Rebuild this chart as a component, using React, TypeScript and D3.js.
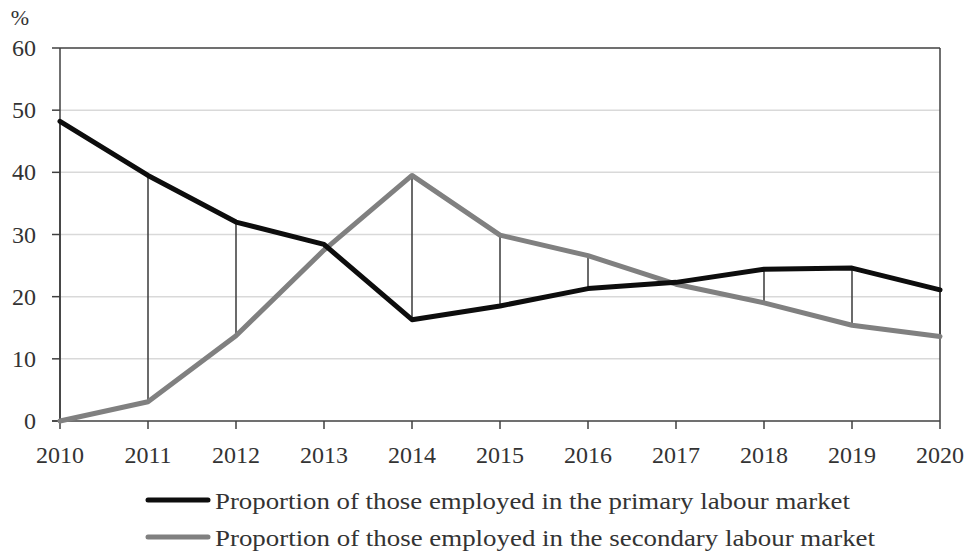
import React from "react";
import * as d3 from "d3";

const years = [2010, 2011, 2012, 2013, 2014, 2015, 2016, 2017, 2018, 2019, 2020];
const primary = [48.2, 39.5, 32.0, 28.4, 16.3, 18.5, 21.3, 22.3, 24.4, 24.6, 21.1];
const secondary = [0.0, 3.1, 13.7, 27.5, 39.5, 29.9, 26.6, 22.0, 19.0, 15.4, 13.6];
const yTicks = [0, 10, 20, 30, 40, 50, 60];
const seriesNames = [
  "Proportion of those employed in the primary labour market",
  "Proportion of those employed in the secondary labour market",
];
const seriesColors = ["#0d0d0d", "#808080"];

const W = 969;
const H = 555;
const left = 60;
const right = 940;
const top = 48;
const bottom = 421;
const font = "Liberation Serif";
const axisColor = "#404040";

export default function App() {
  const x = d3.scaleLinear().domain([2010, 2020]).range([left, right]);
  const y = d3.scaleLinear().domain([0, 60]).range([bottom, top]);
  const line = d3
    .line<number>()
    .x((_, i) => x(years[i]))
    .y((d) => y(d));

  const legendWidths = [635, 660];

  return (
    <svg
      width={W}
      height={H}
      viewBox={`0 0 ${W} ${H}`}
      style={{ position: "absolute", left: 0, top: 0, background: "#fff", fontFamily: font }}
    >
      <rect x={0} y={0} width={W} height={H} fill="#fff" />
      {/* horizontal gridlines */}
      {yTicks
        .filter((t) => t > 0 && t < 60)
        .map((t) => (
          <line key={t} x1={left} x2={right} y1={y(t)} y2={y(t)} stroke="#d9d9d9" strokeWidth={1.5} />
        ))}
      {/* plot frame */}
      <line x1={left} x2={right} y1={y(60)} y2={y(60)} stroke={axisColor} strokeWidth={1.5} />
      <line x1={right} x2={right} y1={y(60)} y2={bottom} stroke={axisColor} strokeWidth={1.5} />
      <line x1={left} x2={left} y1={y(60)} y2={bottom} stroke={axisColor} strokeWidth={1.5} />
      <line x1={left - 8} x2={right} y1={bottom} y2={bottom} stroke={axisColor} strokeWidth={1.5} />

      {/* y ticks and labels */}
      {yTicks.map((t) => (
        <g key={t}>
          <line x1={left - 8} x2={left} y1={y(t)} y2={y(t)} stroke={axisColor} strokeWidth={1.5} />
          <text x={36} y={y(t) + 8} textAnchor="end" fontSize={24} fill="#333">
            {t}
          </text>
        </g>
      ))}
      <text x={20} y={25} textAnchor="middle" fontSize={22} fill="#333">
        %
      </text>

      {/* x ticks and labels */}
      {years.map((yr) => (
        <g key={yr}>
          <line x1={x(yr)} x2={x(yr)} y1={bottom} y2={bottom + 8} stroke={axisColor} strokeWidth={1.5} />
          <text x={x(yr)} y={463} textAnchor="middle" fontSize={24} fill="#333">
            {yr}
          </text>
        </g>
      ))}

      {/* high-low lines between the two series */}
      {years.map((yr, i) => (
        <line
          key={`hl-${yr}`}
          x1={x(yr)}
          x2={x(yr)}
          y1={y(primary[i])}
          y2={y(secondary[i])}
          stroke="#3a3a3a"
          strokeWidth={1.5}
        />
      ))}

      {/* series lines */}
      <path d={line(secondary) ?? ""} fill="none" stroke={seriesColors[1]} strokeWidth={5} strokeLinejoin="round" strokeLinecap="round" />
      <path d={line(primary) ?? ""} fill="none" stroke={seriesColors[0]} strokeWidth={5} strokeLinejoin="round" strokeLinecap="round" />

      {/* legend */}
      {seriesNames.map((name, i) => {
        const ly = 500 + i * 37;
        return (
          <g key={name}>
            <line x1={148} x2={208} y1={ly} y2={ly} stroke={seriesColors[i]} strokeWidth={5} strokeLinecap="round" />
            <text
              x={215}
              y={ly + 9}
              fontSize={23}
              fill="#333"
              textLength={legendWidths[i]}
              lengthAdjust="spacingAndGlyphs"
            >
              {name}
            </text>
          </g>
        );
      })}
    </svg>
  );
}
